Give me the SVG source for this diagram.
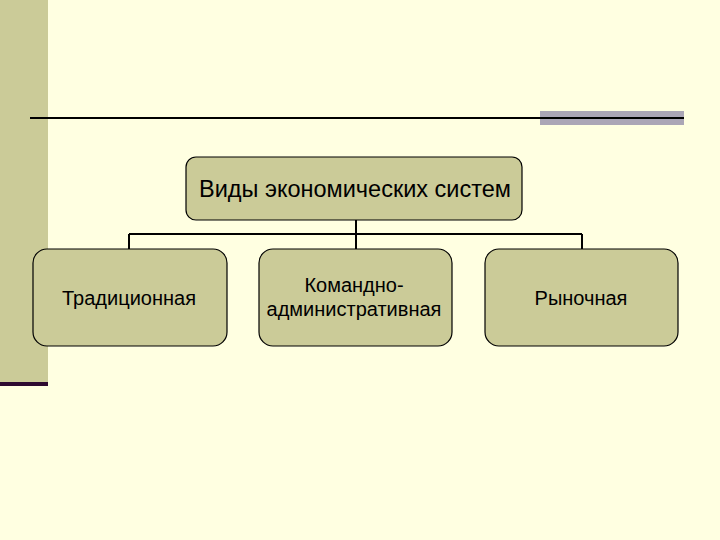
<svg xmlns="http://www.w3.org/2000/svg" width="720" height="540" viewBox="0 0 720 540">
<style>
.node{fill:#CBCB98;stroke:#000;stroke-width:1.2}
.lbl{font-family:"Liberation Sans",Arial,sans-serif;fill:#000;text-anchor:middle}
.conn{stroke:#000;stroke-width:2;fill:none}
</style>
<rect width="720" height="540" fill="#FFFFE1"/>
<rect x="0" y="0" width="48" height="383" fill="#CBCB98"/>
<rect x="0" y="382" width="48" height="4" fill="#2E0A30"/>
<rect x="540" y="111" width="144" height="14" fill="#ABA6B6"/>
<line x1="30" y1="118" x2="684" y2="118" stroke="#000" stroke-width="2"/>
<g id="connectors">
<path class="conn" d="M356 220V234M129 234H582M129 234V249M356 234V249M582 234V249"/>
</g>
<g id="root">
<rect class="node" x="186" y="157" width="336" height="63" rx="10"/>
<text class="lbl" x="355" y="197" font-size="23.5">Виды экономических систем</text>
</g>
<g id="traditional">
<rect class="node" x="33" y="249" width="194" height="97" rx="14"/>
<text class="lbl" x="129" y="305" font-size="20">Традиционная</text>
</g>
<g id="command">
<rect class="node" x="259" y="249" width="193" height="97" rx="14"/>
<text class="lbl" x="354" y="292" font-size="20">Командно-</text>
<text class="lbl" x="354" y="316" font-size="20">административная</text>
</g>
<g id="market">
<rect class="node" x="485" y="249" width="193" height="97" rx="14"/>
<text class="lbl" x="581" y="305" font-size="20">Рыночная</text>
</g>
</svg>
